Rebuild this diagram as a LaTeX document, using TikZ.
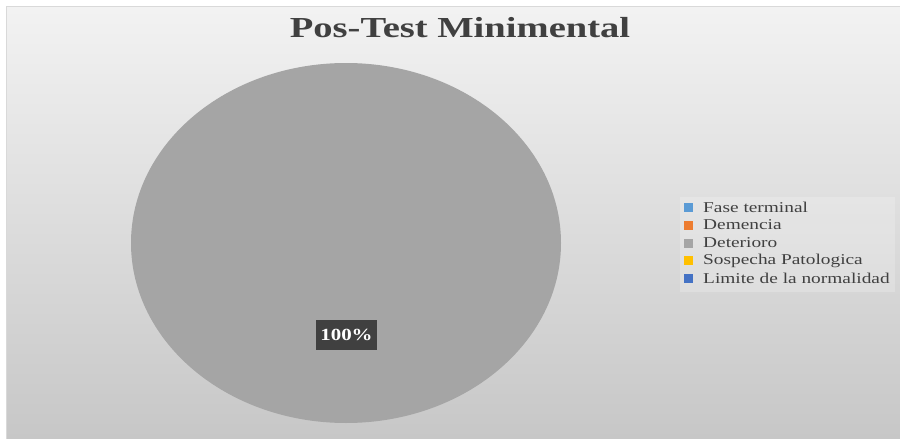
\documentclass[tikz,border=0pt]{standalone}
\usepackage{fontspec}
\usetikzlibrary{shapes.geometric}
\setmainfont{Liberation Serif}
\definecolor{txt}{HTML}{404040}
\definecolor{pie}{HTML}{A5A5A5}
\definecolor{cA}{HTML}{5B9BD5}
\definecolor{cB}{HTML}{ED7D31}
\definecolor{cC}{HTML}{A5A5A5}
\definecolor{cD}{HTML}{FFC000}
\definecolor{cE}{HTML}{4472C4}
\tikzset{
  legsq/.style={minimum width=9pt, minimum height=9pt, inner sep=0pt, draw=none},
  legtxt/.style={anchor=west, inner sep=0pt, text=txt, font=\fontsize{15pt}{15pt}\selectfont},
}
\begin{document}
\begin{tikzpicture}[x=1pt,y=-1pt]
\useasboundingbox (0,0) rectangle (900,439);
\fill[white] (0,0) rectangle (900,439);
\shade[top color=white!95!black, bottom color=white!78!black, draw=white!85!black, line width=0.8pt] (6.5,6.5) rectangle (901,440);
\fill[white, opacity=0.2] (680,197) rectangle (895,292);
\node[draw=none, fill=pie, ellipse, minimum width=430pt, minimum height=360pt, inner sep=0pt] (piechart) at (346,243) {};
\node[fill=txt, text=white, inner sep=0pt, minimum width=61pt, minimum height=30pt, font=\bfseries\fontsize{17pt}{17pt}\selectfont] (lbl) at (346.5,335) {\scalebox{1.23}[1]{100\%}};
\node[text=txt, inner sep=0pt, font=\bfseries\fontsize{29pt}{29pt}\selectfont] (title) at (460,28) {\scalebox{1.33}[1]{Pos-Test Minimental}};
\node[legsq, fill=cA] (s1) at (688.5,207) {};
\node[legsq, fill=cB] (s2) at (688.5,225) {};
\node[legsq, fill=cC] (s3) at (688.5,243) {};
\node[legsq, fill=cD] (s4) at (688.5,260.5) {};
\node[legsq, fill=cE] (s5) at (688.5,278) {};
\node[legtxt] (t1) at (703,207) {\scalebox{1.29}[1]{Fase terminal}};
\node[legtxt] (t2) at (703,225) {\scalebox{1.29}[1]{Demencia}};
\node[legtxt] (t3) at (703,243) {\scalebox{1.29}[1]{Deterioro}};
\node[legtxt] (t4) at (703,260.5) {\scalebox{1.29}[1]{Sospecha Patologica}};
\node[legtxt] (t5) at (703,278) {\scalebox{1.29}[1]{Limite de la normalidad}};
\end{tikzpicture}
\end{document}
